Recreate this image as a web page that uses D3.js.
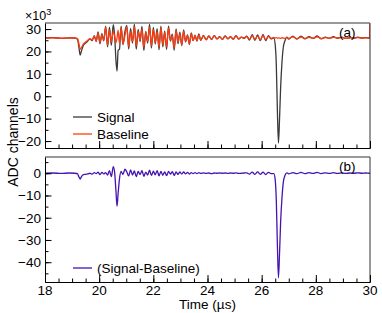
<!DOCTYPE html>
<html>
<head>
<meta charset="utf-8">
<script src="https://cdn.jsdelivr.net/npm/d3@7"></script>
<style>
body { margin: 0; background: #fff; }
svg { display: block; font-family: "Liberation Sans", Arial, sans-serif; }
</style>
</head>
<body>
<svg id="chart" width="382" height="313"></svg>
<script>
// time axis in microseconds
var timeUs = [
  18.0, 18.3, 18.6, 18.9, 19.1, 19.2, 19.25, 19.3, 19.35, 19.42,
  19.5, 19.58, 19.66, 19.74, 19.82, 19.89, 19.96, 20.03, 20.10, 20.17,
  20.24, 20.31, 20.38, 20.45, 20.52, 20.57, 20.62, 20.66, 20.70, 20.75,
  20.81, 20.88, 20.95, 21.02, 21.09, 21.16, 21.23, 21.30, 21.37, 21.44,
  21.51, 21.58, 21.65, 21.72, 21.79, 21.86, 21.93, 22.00, 22.07, 22.14,
  22.21, 22.28, 22.35, 22.42, 22.49, 22.56, 22.63, 22.70, 22.77, 22.84,
  22.91, 22.98, 23.05, 23.12, 23.19, 23.26, 23.33, 23.40, 23.47, 23.54,
  23.61, 23.68, 23.75, 23.85, 23.95, 24.05, 24.15, 24.25, 24.35, 24.45,
  24.55, 24.65, 24.75, 24.85, 24.95, 25.05, 25.15, 25.25, 25.35, 25.45,
  25.55, 25.65, 25.75, 25.85, 25.95, 26.05, 26.15, 26.25, 26.35, 26.45,
  26.50, 26.54, 26.58, 26.62, 26.66, 26.70, 26.75, 26.80, 26.86, 26.93,
  27.0, 27.15, 27.3, 27.45, 27.6, 27.75, 27.9, 28.05, 28.2, 28.35,
  28.5, 28.65, 28.8, 28.95, 29.1, 29.25, 29.4, 29.55, 29.7, 29.85,
  29.98, 30.0
];
// ADC channels, x10^3
var signal = [
  26.0, 26.2, 25.8, 26.1, 26.0, 25.5, 22.0, 18.4, 20.4, 22.8,
  23.7, 24.7, 25.6, 24.8, 27.1, 24.4, 28.7, 23.4, 27.9, 24.7,
  31.3, 22.0, 30.8, 22.7, 32.0, 27.3, 16.0, 11.2, 20.5, 21.0,
  31.3, 23.0, 28.8, 31.6, 21.0, 30.3, 23.7, 32.2, 21.0, 29.8,
  24.4, 31.2, 20.4, 29.0, 23.7, 32.2, 21.5, 30.7, 23.3, 30.2,
  20.8, 31.3, 22.1, 29.1, 20.9, 31.3, 24.6, 27.7, 20.5, 30.1,
  23.5, 28.6, 22.6, 29.6, 24.2, 27.4, 23.1, 28.3, 24.8, 27.3,
  24.6, 27.8, 24.9, 27.2, 25.2, 26.9, 25.3, 27.1, 25.6, 26.6,
  25.4, 26.9, 25.6, 26.6, 25.5, 27.1, 25.5, 26.4, 25.9, 26.8,
  25.1, 27.5, 24.9, 27.4, 24.8, 27.6, 24.8, 27.0, 25.6, 26.1,
  23.0, 14.2, -6.1, -20.9, -10.0, 3.8, 15.2, 22.0, 24.8, 26.4,
  25.5, 26.8, 25.5, 26.8, 25.6, 26.6, 25.8, 26.9, 25.6, 26.4,
  25.8, 26.6, 25.9, 26.4, 25.8, 26.2, 26.0, 26.4, 26.0, 26.2,
  26.0, 26.0
];
var baseline = [
  26.0, 26.1, 25.9, 26.0, 26.0, 25.7, 23.6, 21.0, 21.8, 23.4,
  24.2, 25.0, 25.6, 25.2, 26.8, 24.6, 28.2, 24.0, 27.5, 25.0,
  31.0, 22.8, 29.6, 24.2, 29.0, 26.8, 24.0, 26.0, 29.5, 23.5,
  30.5, 23.5, 27.0, 31.0, 22.2, 28.8, 24.5, 31.2, 22.5, 29.0,
  25.0, 30.0, 21.8, 28.5, 24.5, 30.8, 22.5, 29.8, 24.0, 29.0,
  22.0, 30.5, 23.0, 28.5, 22.0, 30.5, 25.0, 27.0, 21.5, 29.5,
  24.0, 28.0, 23.0, 29.0, 24.5, 27.0, 23.5, 28.0, 25.0, 27.0,
  24.8, 27.5, 25.0, 27.0, 25.3, 26.8, 25.5, 27.0, 25.6, 26.5,
  25.4, 26.8, 25.7, 26.5, 25.5, 26.9, 25.6, 26.4, 25.8, 26.6,
  25.5, 27.0, 25.4, 26.8, 25.3, 27.1, 25.4, 26.6, 25.8, 26.3,
  26.0, 26.2, 25.9, 26.1, 26.0, 25.8, 26.2, 26.0, 25.8, 26.2,
  25.8, 26.5, 25.7, 26.4, 25.8, 26.3, 25.9, 26.5, 25.8, 26.2,
  25.9, 26.3, 26.0, 26.2, 25.9, 26.1, 26.0, 26.2, 26.0, 26.1,
  26.0, 36.0
];
var difference = [
  0.0, 0.1, -0.1, 0.1, 0.0, -0.2, -1.6, -2.6, -1.4, -0.6,
  -0.5, -0.3, 0.0, -0.4, 0.3, -0.2, 0.5, -0.6, 0.4, -0.3,
  0.3, -0.8, 1.2, -1.5, 3.0, 0.5, -8.0, -14.8, -9.0, -2.5,
  0.8, -0.5, 1.8, 0.6, -1.2, 1.5, -0.8, 1.0, -1.5, 0.8,
  -0.6, 1.2, -1.4, 0.5, -0.8, 1.4, -1.0, 0.9, -0.7, 1.2,
  -1.2, 0.8, -0.9, 0.6, -1.1, 0.8, -0.4, 0.7, -1.0, 0.6,
  -0.5, 0.6, -0.4, 0.6, -0.3, 0.4, -0.4, 0.3, -0.2, 0.3,
  -0.2, 0.3, -0.1, 0.2, -0.1, 0.1, -0.2, 0.1, 0.0, 0.1,
  0.0, 0.1, -0.1, 0.1, 0.0, 0.2, -0.1, 0.0, 0.1, 0.2,
  -0.4, 0.5, -0.5, 0.6, -0.5, 0.5, -0.6, 0.4, -0.2, -0.2,
  -3.0, -12.0, -32.0, -47.0, -36.0, -22.0, -11.0, -4.0, -1.0, 0.2,
  -0.3, 0.3, -0.2, 0.4, -0.2, 0.3, -0.1, 0.4, -0.2, 0.2,
  -0.1, 0.3, -0.1, 0.2, -0.1, 0.1, 0.0, 0.2, 0.0, 0.1,
  0.0, 0.0
];
var xTicks = [18, 20, 22, 24, 26, 28, 30];
var topYTicks = [30, 20, 10, 0, -10, -20];
var botYTicks = [0, -10, -20, -30, -40];

var svg = d3.select('#chart');
var left = 45, right = 370;

var x = d3.scaleLinear().domain([18, 30]).range([left, right]);
var yTop = d3.scaleLinear().domain([-23.1, 32.7]).range([148, 23]);
var yBot = d3.scaleLinear().domain([-48.9, 7.3]).range([282, 157]);

var fmt = function (d) { return d < 0 ? '\u2212' + Math.abs(d) : '' + d; };

var drawPanel = function (y, id, majorY, label, series) {
    var top = y.range()[1], bottom = y.range()[0];
    svg.append('clipPath').attr('id', 'clip' + id)
        .append('rect').attr('x', left).attr('y', top)
        .attr('width', right - left).attr('height', bottom - top);

    var g = svg.append('g');
    var line = d3.line()
        .curve(d3.curveMonotoneX)
        .x(function (d) { return x(d[0]); })
        .y(function (d) { return y(d[1]); });
    series.forEach(function (s) {
        g.append('path')
            .datum(timeUs.map(function (t, i) { return [t, s.values[i]]; }))
            .attr('clip-path', 'url(#clip' + id + ')')
            .attr('fill', 'none')
            .attr('stroke', s.color)
            .attr('stroke-width', 1.3)
            .attr('stroke-linejoin', 'round')
            .attr('d', line);
    });

    // frame
    g.append('line').attr('x1', left).attr('x2', right).attr('y1', top).attr('y2', top)
        .attr('stroke', '#999').attr('stroke-width', 2);
    g.append('line').attr('x1', right).attr('x2', right).attr('y1', top).attr('y2', bottom)
        .attr('stroke', '#333').attr('stroke-width', 1);

    // y axis, inward ticks
    var yMinor = d3.range(Math.ceil(y.domain()[0] / 5) * 5, y.domain()[1], 5);
    g.append('g').attr('transform', 'translate(' + left + ',0)')
        .call(d3.axisRight(y).tickValues(yMinor).tickSize(3.5).tickFormat(''))
        .call(function (a) { a.select('.domain').remove(); });
    var ya = g.append('g').attr('transform', 'translate(' + left + ',0)')
        .call(d3.axisLeft(y).tickValues(majorY).tickSize(0).tickPadding(4).tickFormat(fmt));
    ya.selectAll('.tick').append('line').attr('x2', 6.5).attr('stroke', '#000');
    ya.select('.domain').attr('stroke', '#000');
    ya.selectAll('text').attr('font-size', 13.5).attr('fill', '#000')
        .attr('font-family', '"Liberation Sans", Arial, sans-serif');

    // x axis, inward ticks
    g.append('g').attr('transform', 'translate(0,' + bottom + ')')
        .call(d3.axisTop(x).tickValues(d3.range(18, 30.01, 0.5)).tickSize(3.5).tickFormat(''))
        .call(function (a) { a.select('.domain').attr('stroke', '#000'); });
    var xa = g.append('g').attr('transform', 'translate(0,' + bottom + ')')
        .call(d3.axisTop(x).tickValues(xTicks).tickSize(7).tickFormat(''));
    xa.select('.domain').remove();

    g.append('text').attr('x', 339).attr('y', top + 13.5)
        .attr('font-size', 13.5).text(label);
};

drawPanel(yTop, 'a', topYTicks, '(a)', [
    { values: signal, color: '#3a3a3a' },
    { values: baseline, color: '#ff3b0f' }
]);
drawPanel(yBot, 'b', botYTicks, '(b)', [
    { values: difference, color: '#4514b0' }
]);

// x tick labels under bottom panel
svg.append('g').selectAll('text').data(xTicks).join('text')
    .attr('x', function (d) { return x(d); })
    .attr('y', 295)
    .attr('text-anchor', 'middle')
    .attr('font-size', 13.5)
    .text(function (d) { return d; });

svg.append('text').attr('x', (left + right) / 2).attr('y', 309)
    .attr('text-anchor', 'middle').attr('font-size', 13.5).text('Time (\u00b5s)');

svg.append('text').attr('transform', 'translate(18,142) rotate(-90)')
    .attr('text-anchor', 'middle').attr('font-size', 14).text('ADC channels');

var mult = svg.append('text').attr('x', 25).attr('y', 20).attr('font-size', 12.5);
mult.append('tspan').text('\u00d710');
mult.append('tspan').attr('dy', -5).attr('font-size', 9).text('3');

// legends
var legend = [
    { y: 117, color: '#3a3a3a', text: 'Signal' },
    { y: 134, color: '#ff3b0f', text: 'Baseline' },
    { y: 268, color: '#4514b0', text: '(Signal-Baseline)' }
];
var lg = svg.append('g').selectAll('g').data(legend).join('g');
lg.append('line').attr('x1', 73).attr('x2', 92)
    .attr('y1', function (d) { return d.y; }).attr('y2', function (d) { return d.y; })
    .attr('stroke', function (d) { return d.color; }).attr('stroke-width', 1.3);
lg.append('text').attr('x', 97).attr('y', function (d) { return d.y + 4.5; })
    .attr('font-size', 13.5).text(function (d) { return d.text; });
</script>
</body>
</html>
